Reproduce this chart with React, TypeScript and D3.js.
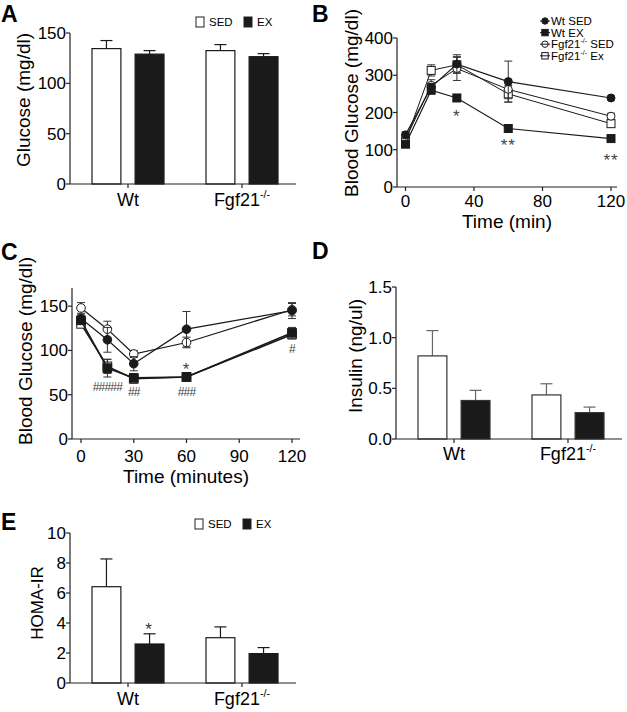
import React from 'react';
import * as d3 from 'd3';

const FONT = '"Liberation Sans", Arial, Helvetica, sans-serif';

const groups = ['Wt', 'Fgf21'];
const treatments = ['SED', 'EX'];

// Panel A: fasting glucose (mg/dl)
const aSED = [134.5, 132.5];
const aSEDerr = [8, 6];
const aEX = [129, 126.5];
const aEXerr = [3.5, 3];
const aTicks = [0, 50, 100, 150];

// Panel D: insulin (ng/ul)
const dSED = [0.82, 0.435];
const dSEDerr = [0.25, 0.11];
const dEX = [0.38, 0.26];
const dEXerr = [0.1, 0.055];
const dTicks = [0, 0.5, 1.0, 1.5];

// Panel E: HOMA-IR
const eSED = [6.42, 3.02];
const eSEDerr = [1.85, 0.72];
const eEX = [2.6, 1.96];
const eEXerr = [0.68, 0.4];
const eTicks = [0, 2, 4, 6, 8, 10];

// Panel B: GTT
const bTime = [0, 15, 30, 60, 120];
const bWtSED = [140, 268, 330, 283, 239];
const bWtSEDerr = [8, 10, 25, 55, 4];
const bWtEX = [115, 260, 239, 157, 130];
const bWtEXerr = [6, 10, 6, 5, 8];
const bFgfSED = [128, 273, 318, 262, 190];
const bFgfSEDerr = [10, 15, 32, 25, 8];
const bFgfEx = [123, 313, 328, 250, 170];
const bFgfExerr = [10, 15, 20, 22, 8];
const bXTicks = [0, 40, 80, 120];
const bYTicks = [0, 100, 200, 300, 400];
const bAnnT = [30, 60, 120];
const bAnnV = [202, 126, 86];
const bAnnText = ['*', '**', '**'];

// Panel C: ITT
const cTime = [0, 15, 30, 60, 120];
const cWtSED = [136, 112, 85, 124, 145];
const cWtSEDerr = [5, 14, 8, 20, 9];
const cWtEX = [134, 80, 69, 70, 120];
const cWtEXerr = [4, 10, 4, 5, 6];
const cFgfSED = [148, 124, 96, 109, 146];
const cFgfSEDerr = [6, 9, 4, 6, 7];
const cFgfEx = [130, 82, 68, 70, 118];
const cFgfExerr = [4, 8, 5, 4, 5];
const cXTicks = [0, 30, 60, 90, 120];
const cYTicks = [0, 50, 100, 150];
const cAnnT = [15, 30, 60, 60, 120];
const cAnnV = [59, 53, 84, 53, 102];
const cAnnText = ['#####', '##', '*', '###', '#'];

const legendLabels = ['Wt SED', 'Wt EX', 'Fgf21', 'Fgf21'];

function GroupLabel({ x, y, g, size }: any) {
  if (g === 'Wt') {
    return (
      <text x={x} y={y} textAnchor="middle" fontSize={size} fontFamily={FONT}>Wt</text>
    );
  }
  return (
    <text x={x} y={y} textAnchor="middle" fontSize={size} fontFamily={FONT}>
      Fgf21<tspan dy={-size * 0.45} fontSize={size * 0.6}>-/-</tspan>
    </text>
  );
}

// Annotation text whose glyph is centred at (x, yc)
function Ann({ x, yc, text, color }: any) {
  const isStar = text.indexOf('*') >= 0;
  const size = isStar ? 17 : 12;
  const shift = isStar ? 0.62 * size : 0.36 * size;
  return (
    <text x={x} y={yc + shift} textAnchor="middle" fontSize={size} fill={color} fontFamily={FONT} letterSpacing={isStar ? 1 : -0.8}>{text}</text>
  );
}

function BarPanel(props: any) {
  const { x0, yBottom, yTop, max, ticks, fmt, sed, sedErr, ex, exErr, errColor, yTitle, titleX, titleY, titleSize, labelY, stroke } = props;
  const y = d3.scaleLinear().domain([0, max]).range([yBottom, yTop]);
  const gx = d3.scalePoint().domain(groups).range([x0 + 58, x0 + 172]);
  const inner = d3.scaleBand().domain(treatments).range([-36, 36]).paddingInner(0.33);
  const bw = inner.bandwidth();
  const series = [
    { key: 'SED', vals: sed, errs: sedErr, fill: '#ffffff' },
    { key: 'EX', vals: ex, errs: exErr, fill: '#1a1a1a' },
  ];
  return (
    <g>
      {series.map((s) =>
        groups.map((g, i) => {
          const xl = (gx(g) as number) + (inner(s.key) as number);
          const xc = xl + bw / 2;
          const top = y(s.vals[i]);
          const et = y(s.vals[i] + s.errs[i]);
          return (
            <g key={s.key + g}>
              <line x1={xc} x2={xc} y1={top} y2={et} stroke={errColor} strokeWidth={1.2} />
              <line x1={xc - 6} x2={xc + 6} y1={et} y2={et} stroke={errColor} strokeWidth={1.2} />
              <rect x={xl} y={top} width={bw} height={yBottom - top} fill={s.fill} stroke={stroke} strokeWidth={1.2} />
            </g>
          );
        })
      )}
      <line x1={x0} x2={x0} y1={yBottom} y2={y(max)} stroke="#222" strokeWidth={1.2} />
      <line x1={x0} x2={x0 + 226} y1={yBottom} y2={yBottom} stroke="#222" strokeWidth={1.2} />
      {ticks.map((t: number) => (
        <g key={t}>
          <line x1={x0 - 4} x2={x0} y1={y(t)} y2={y(t)} stroke="#222" strokeWidth={1.2} />
          <text x={x0 - 4} y={y(t) + 6} textAnchor="end" fontSize={17} fontFamily={FONT}>{fmt(t)}</text>
        </g>
      ))}
      {groups.map((g) => (
        <g key={g}>
          <line x1={gx(g)} x2={gx(g)} y1={yBottom} y2={yBottom + 4} stroke="#222" strokeWidth={1.2} />
          <GroupLabel x={gx(g)} y={labelY} g={g} size={18} />
        </g>
      ))}
      <text transform={`translate(${titleX},${titleY}) rotate(-90)`} textAnchor="middle" fontSize={titleSize} fontFamily={FONT}>{yTitle}</text>
    </g>
  );
}

function BarLegend({ x, y }: any) {
  return (
    <g fontFamily={FONT} fontSize={11.5}>
      <rect x={x} y={y - 9} width={8} height={10} fill="#fff" stroke="#222" strokeWidth={1} />
      <text x={x + 13} y={y}>SED</text>
      <rect x={x + 48} y={y - 9} width={8} height={10} fill="#1a1a1a" stroke="#222" strokeWidth={1} />
      <text x={x + 61} y={y}>EX</text>
    </g>
  );
}

function Marker({ kind, x, y, r }: any) {
  if (kind === 'fc') return <circle cx={x} cy={y} r={r} fill="#1a1a1a" stroke="#1a1a1a" />;
  if (kind === 'oc') return <circle cx={x} cy={y} r={r} fill="#fff" stroke="#1a1a1a" strokeWidth={1} />;
  if (kind === 'fs') return <rect x={x - r} y={y - r} width={2 * r} height={2 * r} fill="#1a1a1a" stroke="#1a1a1a" />;
  return <rect x={x - r} y={y - r} width={2 * r} height={2 * r} fill="#fff" stroke="#1a1a1a" strokeWidth={1} />;
}

function LinePanel(props: any) {
  const { xAxisX0, xAxisX1, xr, yBottom, yTop, ymax, xTicks, yTicks, time, series, ann, annColor, yTitle, titleX, titleY, xTitle, xTitleY, tickLabelY, r } = props;
  const x = d3.scaleLinear().domain([0, 120]).range(xr);
  const y = d3.scaleLinear().domain([0, ymax]).range([yBottom, yTop]);
  const line = d3.line<number>().x((_, i) => x(time[i])).y((d) => y(d));
  return (
    <g>
      {series.map((s: any, si: number) => (
        <g key={si}>
          <path d={line(s.vals) as string} fill="none" stroke="#1a1a1a" strokeWidth={s.w} />
          {s.vals.map((v: number, i: number) => {
            const xc = x(time[i]);
            return (
              <g key={i}>
                <line x1={xc} x2={xc} y1={y(v - s.errs[i])} y2={y(v + s.errs[i])} stroke="#333" strokeWidth={1} />
                <line x1={xc - 4} x2={xc + 4} y1={y(v + s.errs[i])} y2={y(v + s.errs[i])} stroke="#333" strokeWidth={1} />
                <line x1={xc - 4} x2={xc + 4} y1={y(v - s.errs[i])} y2={y(v - s.errs[i])} stroke="#333" strokeWidth={1} />
                <Marker kind={s.kind} x={xc} y={y(v)} r={r} />
              </g>
            );
          })}
        </g>
      ))}
      <line x1={xAxisX0} x2={xAxisX0} y1={yBottom} y2={yTop} stroke="#222" strokeWidth={1.2} />
      <line x1={xAxisX0} x2={xAxisX1} y1={yBottom} y2={yBottom} stroke="#222" strokeWidth={1.2} />
      {yTicks.map((t: number) => (
        <g key={t}>
          <line x1={xAxisX0 - 4} x2={xAxisX0} y1={y(t)} y2={y(t)} stroke="#222" strokeWidth={1.2} />
          <text x={xAxisX0 - 4} y={y(t) + 6} textAnchor="end" fontSize={17} fontFamily={FONT}>{t}</text>
        </g>
      ))}
      {xTicks.map((t: number) => (
        <g key={t}>
          <line x1={x(t)} x2={x(t)} y1={yBottom} y2={yBottom + 4} stroke="#222" strokeWidth={1.2} />
          <text x={x(t)} y={tickLabelY} textAnchor="middle" fontSize={17} fontFamily={FONT}>{t}</text>
        </g>
      ))}
      {ann.t.map((t: number, i: number) => (
        <Ann key={i} x={x(t)} yc={y(ann.v[i])} text={ann.text[i]} color={annColor} />
      ))}
      <text transform={`translate(${titleX},${titleY}) rotate(-90)`} textAnchor="middle" fontSize={19} fontFamily={FONT}>{yTitle}</text>
      <text x={(xAxisX0 + xAxisX1) / 2} y={xTitleY} textAnchor="middle" fontSize={19} fontFamily={FONT}>{xTitle}</text>
    </g>
  );
}

function PanelLetter({ x, y, t }: any) {
  return <text x={x} y={y} fontSize={23} fontWeight="bold" fontFamily={FONT}>{t}</text>;
}

export default function App() {
  const bSeries = [
    { vals: bFgfEx, errs: bFgfExerr, kind: 'os', w: 1 },
    { vals: bFgfSED, errs: bFgfSEDerr, kind: 'oc', w: 1 },
    { vals: bWtEX, errs: bWtEXerr, kind: 'fs', w: 1.2 },
    { vals: bWtSED, errs: bWtSEDerr, kind: 'fc', w: 1.2 },
  ];
  const cSeries = [
    { vals: cFgfEx, errs: cFgfExerr, kind: 'os', w: 1.6 },
    { vals: cFgfSED, errs: cFgfSEDerr, kind: 'oc', w: 1.2 },
    { vals: cWtSED, errs: cWtSEDerr, kind: 'fc', w: 1.2 },
    { vals: cWtEX, errs: cWtEXerr, kind: 'fs', w: 1.6 },
  ];
  const legendKinds = ['fc', 'fs', 'oc', 'os'];
  return (
    <svg width={627} height={712} style={{ position: 'absolute', left: 0, top: 0, background: '#fff' }}>
      <rect x={0} y={0} width={627} height={712} fill="#fff" />
      {/* Panel A */}
      <PanelLetter x={1} y={22} t="A" />
      <BarPanel x0={70} yBottom={184} yTop={33} max={150} ticks={aTicks} fmt={(t: number) => String(t)}
        sed={aSED} sedErr={aSEDerr} ex={aEX} exErr={aEXerr} errColor="#1a1a1a" stroke="#1a1a1a"
        yTitle="Glucose (mg/dl)" titleX={30} titleY={100} titleSize={19} labelY={206} />
      <BarLegend x={196} y={26} />

      {/* Panel B */}
      <PanelLetter x={312} y={22} t="B" />
      <LinePanel xAxisX0={397} xAxisX1={617} xr={[405.5, 611]} yBottom={187} yTop={38} ymax={400}
        xTicks={bXTicks} yTicks={bYTicks} time={bTime} series={bSeries} r={4}
        ann={{ t: bAnnT, v: bAnnV, text: bAnnText }} annColor="#444"
        yTitle="Blood Glucose (mg/dl)" titleX={358} titleY={103} xTitle="Time (min)" xTitleY={228} tickLabelY={207} />
      <g fontFamily={FONT} fontSize={11.5}>
        {legendKinds.map((k, i) => (
          <g key={k}>
            <Marker kind={k} x={545} y={21 + i * 11.6} r={3.2} />
            <line x1={540} x2={550} y1={21 + i * 11.6} y2={21 + i * 11.6} stroke="#1a1a1a" strokeWidth={1} />
            <text x={551} y={25 + i * 11.6}>
              {legendLabels[i]}
              {i >= 2 ? <tspan dy={-5} fontSize={7}>-/-</tspan> : null}
              {i === 2 ? <tspan dy={5}> SED</tspan> : null}
              {i === 3 ? <tspan dy={5}> Ex</tspan> : null}
            </text>
          </g>
        ))}
      </g>

      {/* Panel C */}
      <PanelLetter x={1} y={260} t="C" />
      <LinePanel xAxisX0={72} xAxisX1={300} xr={[81, 292]} yBottom={439} yTop={288} ymax={170.5}
        xTicks={cXTicks} yTicks={cYTicks} time={cTime} series={cSeries} r={4.3}
        ann={{ t: cAnnT, v: cAnnV, text: cAnnText }} annColor="#444"
        yTitle="Blood Glucose (mg/dl)" titleX={32} titleY={351} xTitle="Time (minutes)" xTitleY={483} tickLabelY={462} />

      {/* Panel D */}
      <PanelLetter x={312} y={259} t="D" />
      <BarPanel x0={396} yBottom={439} yTop={287} max={1.5} ticks={dTicks} fmt={(t: number) => t.toFixed(1)}
        sed={dSED} sedErr={dSEDerr} ex={dEX} exErr={dEXerr} errColor="#666" stroke="#333"
        yTitle="Insulin (ng/ul)" titleX={362} titleY={356} titleSize={19} labelY={460} />

      {/* Panel E */}
      <PanelLetter x={1} y={530} t="E" />
      <BarPanel x0={70} yBottom={683} yTop={533} max={10} ticks={eTicks} fmt={(t: number) => String(t)}
        sed={eSED} sedErr={eSEDerr} ex={eEX} exErr={eEXerr} errColor="#1a1a1a" stroke="#1a1a1a"
        yTitle="HOMA-IR" titleX={43} titleY={603} titleSize={17} labelY={705} />
      <Ann x={149} yc={624} text="*" color="#333" />
      <BarLegend x={195} y={528} />
    </svg>
  );
}
